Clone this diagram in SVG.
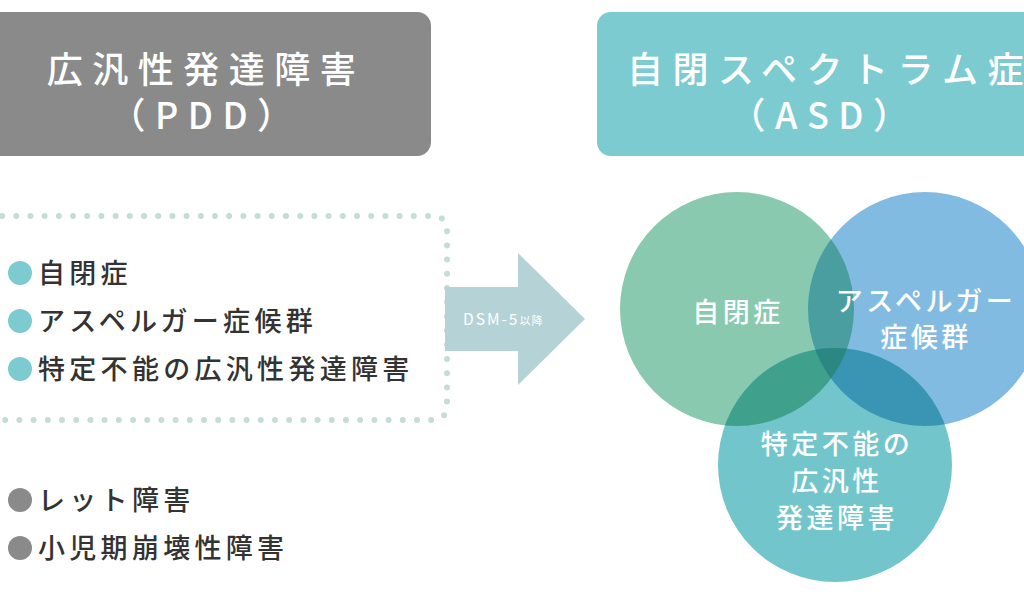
<svg xmlns="http://www.w3.org/2000/svg" width="1024" height="602" viewBox="0 0 1024 602">
<style>
.hd{font-family:"Noto Sans CJK JP","Noto Sans",sans-serif;font-size:36px;fill:#fff;letter-spacing:9.5px;font-weight:500}
.li{font-family:"Noto Sans CJK JP","Noto Sans",sans-serif;font-size:27px;fill:#333;letter-spacing:4.3px;font-weight:500}
.cl{font-family:"Noto Sans CJK JP","Noto Sans",sans-serif;font-size:27px;fill:#fff;letter-spacing:3.5px;font-weight:500;text-anchor:middle}
.bt{fill:#7ccbd0}.bg{fill:#8a8a8a}
</style>
<defs>
<clipPath id="cG"><circle cx="737" cy="309" r="117"/></clipPath>
<clipPath id="cB"><circle cx="925" cy="309" r="117"/></clipPath>
</defs>
<rect width="1024" height="602" fill="#fff"/>
<g id="pdd-header">
<rect x="-20" y="12" width="451" height="144" rx="14" fill="#8a8a8a"/>
<text class="hd" x="206" y="83" text-anchor="middle">広汎性発達障害</text>
<text class="hd" x="206" y="129" text-anchor="middle">（PDD）</text>
</g>
<g id="asd-header">
<rect x="597" y="12" width="460" height="144" rx="14" fill="#7ccbd0"/>
<text class="hd" x="627" y="83">自閉スペクトラム症</text>
<text class="hd" x="824" y="129" text-anchor="middle">（ASD）</text>
</g>
<g id="pdd-list">
<path d="M2 216 H432 Q447 216 447 231 V405 Q447 420 432 420 H2" fill="none" stroke="#c6dcd7" stroke-width="6" stroke-linecap="round" stroke-dasharray="0 14.2"/>
<circle class="bt" cx="20" cy="273" r="12"/>
<text class="li" x="38" y="283">自閉症</text>
<circle class="bt" cx="20" cy="321" r="12"/>
<text class="li" x="38" y="331">アスペルガー症候群</text>
<circle class="bt" cx="20" cy="369" r="12"/>
<text class="li" x="38" y="379">特定不能の広汎性発達障害</text>
</g>
<g id="other-list">
<circle class="bg" cx="20" cy="500" r="12"/>
<text class="li" x="38" y="510">レット障害</text>
<circle class="bg" cx="20" cy="548" r="12"/>
<text class="li" x="38" y="558">小児期崩壊性障害</text>
</g>
<g id="connectors">
<g id="arrow">
<path d="M445 287 H518 V253 L585 319 L518 385 V351 H445 Z" fill="#b5d3d6"/>
<text x="463" y="325" font-family="'Noto Sans CJK JP','Noto Sans',sans-serif" font-size="15.5" fill="#fff" letter-spacing="2">DSM-5<tspan font-size="11" letter-spacing="1">以降</tspan></text>
</g>
</g>
<g id="venn">
<circle cx="737" cy="309" r="117" fill="#88c9b0"/>
<circle cx="925" cy="309" r="117" fill="#82bbe2"/>
<circle cx="835" cy="465" r="117" fill="#72c6cb"/>
<circle cx="925" cy="309" r="117" fill="#4a9e9f" clip-path="url(#cG)"/>
<circle cx="835" cy="465" r="117" fill="#3fa08c" clip-path="url(#cG)"/>
<circle cx="835" cy="465" r="117" fill="#3a95b5" clip-path="url(#cB)"/>
<g clip-path="url(#cG)"><circle cx="835" cy="465" r="117" fill="#2a8782" clip-path="url(#cB)"/></g>
</g>
<g id="node-autism"><text class="cl" x="738" y="322" font-size="32" letter-spacing="4">自閉症</text></g>
<g id="node-asperger"><text class="cl" x="926" y="311">アスペルガー</text><text class="cl" x="926" y="347">症候群</text></g>
<g id="node-pddnos"><text class="cl" x="837" y="454">特定不能の</text><text class="cl" x="837" y="491">広汎性</text><text class="cl" x="837" y="528">発達障害</text></g>
</svg>
